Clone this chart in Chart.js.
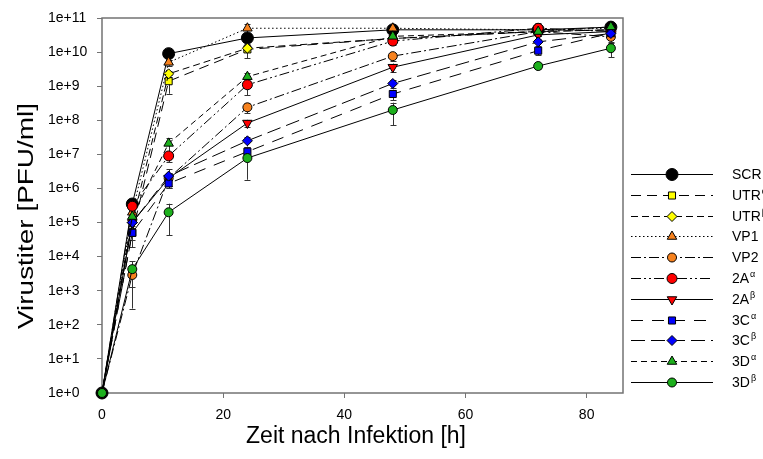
<!DOCTYPE html>
<html>
<head>
<meta charset="utf-8">
<script src="https://cdn.jsdelivr.net/npm/chart.js@4.4.0/dist/chart.umd.min.js"></script>
<style>
  html, body { margin: 0; padding: 0; background: #fff; }
  #wrap { width: 763px; height: 459px; }
</style>
</head>
<body>
<div id="wrap"><canvas id="myChart"></canvas></div>
<script>
// time points (h) and y tick labels
const hours = [0, 5, 11, 24, 48, 72, 84];
const xTicks = [0, 20, 40, 60, 80];
const yTicks = [1e0, 1e1, 1e2, 1e3, 1e4, 1e5, 1e6, 1e7, 1e8, 1e9, 1e10, 1e11];
const yTickLabels = ['1e+0', '1e+1', '1e+2', '1e+3', '1e+4', '1e+5', '1e+6', '1e+7', '1e+8', '1e+9', '1e+10', '1e+11'];

// legend names (main text + superscript)
const seriesNames = ['SCR', 'UTR', 'UTR', 'VP1', 'VP2', '2A', '2A', '3C', '3C', '3D', '3D'];
const seriesSup = ['', 'α', 'β', '', '', 'α', 'β', 'α', 'β', 'α', 'β'];

// virus titer (PFU/ml) and standard deviation, per construct
const scr = [1, 3.5e5, 9e9, 2.6e10, 4.5e10, 4.5e10, 5.4e10];
const scrSd = [0, 1e5, 2e9, 5e9, 5e9, 1.5e10, 1e10];
const utrA = [1, 5e4, 1.4e9, 1.2e10, 2.5e10, 4e10, 4.5e10];
const utrASd = [0, 2e4, 8e8, 5.5e9, 5e9, 1e10, 1e10];
const utrB = [1, 1e5, 2.3e9, 1.3e10, 2.5e10, 4e10, 4.5e10];
const utrBSd = [0, 3e4, 5e8, 3e9, 5e9, 1e10, 1e10];
const vp1 = [1, 2e5, 5e9, 5e10, 5e10, 4.5e10, 5e10];
const vp1Sd = [0, 5e4, 1e9, 1.5e10, 8e9, 1e10, 1e10];
const vp2 = [1, 2.9e3, 2e6, 2.4e8, 7.6e9, 4e10, 2.8e10];
const vp2Sd = [0, 2.6e3, 8e5, 8e7, 2e9, 1e10, 8e9];
const a2A = [1, 3e5, 9e6, 1.1e9, 2.1e10, 5e10, 4e10];
const a2ASd = [0, 5e4, 3e6, 5.5e8, 5e9, 2e10, 1e10];
const a2B = [1, 1e5, 2e6, 8.3e7, 3.6e9, 3.2e10, 4e10];
const a2BSd = [0, 3e4, 8e5, 2e7, 1e9, 1e10, 1e10];
const c3A = [1, 5e4, 1.4e6, 1.2e7, 5.9e8, 1.1e10, 3.6e10];
const c3ASd = [0, 3.1e4, 4e5, 4e6, 2e8, 3e9, 8e9];
const c3B = [1, 1e5, 2.3e6, 2.5e7, 1.2e9, 2e10, 3.5e10];
const c3BSd = [0, 3e4, 1.3e6, 8e6, 3e8, 5e9, 8e9];
const d3A = [1, 1.5e5, 2.1e7, 1.9e9, 2.9e10, 4e10, 5.5e10];
const d3ASd = [0, 4e4, 9e6, 6e8, 5e9, 1e10, 1e10];
const d3B = [1, 4.3e3, 2e5, 7.8e6, 2e8, 3.9e9, 1.3e10];
const d3BSd = [0, 3e3, 1.57e5, 6e6, 1.28e8, 8e8, 6e9];

const seriesValues = [scr, utrA, utrB, vp1, vp2, a2A, a2B, c3A, c3B, d3A, d3B];
const seriesSd = [scrSd, utrASd, utrBSd, vp1Sd, vp2Sd, a2ASd, a2BSd, c3ASd, c3BSd, d3ASd, d3BSd];

const ORANGE = '#F7821E';
const RED = '#FF0000';
const BLUE = '#0000FF';
const GREEN = '#1DB01D';
const YELLOW = '#FFFF00';

const styles = [
  { color: '#000000', shape: 'circle', radius: 6, rot: 0, dash: [] },
  { color: YELLOW, shape: 'rect', radius: 5, rot: 0, dash: [10, 6] },
  { color: YELLOW, shape: 'rectRot', radius: 5, rot: 0, dash: [7, 4] },
  { color: ORANGE, shape: 'triangle', radius: 5.5, rot: 0, dash: [1.5, 2.5] },
  { color: ORANGE, shape: 'circle', radius: 4.5, rot: 0, dash: [10, 3, 2, 3] },
  { color: RED, shape: 'circle', radius: 5, rot: 0, dash: [10, 3, 2, 3, 2, 3] },
  { color: RED, shape: 'triangle', radius: 5.5, rot: 180, dash: [] },
  { color: BLUE, shape: 'rect', radius: 5, rot: 0, dash: [12, 9] },
  { color: BLUE, shape: 'rectRot', radius: 5, rot: 0, dash: [14, 6] },
  { color: GREEN, shape: 'triangle', radius: 5.5, rot: 0, dash: [6, 4] },
  { color: GREEN, shape: 'circle', radius: 4.5, rot: 0, dash: [] }
];

const FONT = "'Liberation Sans', Arial, sans-serif";

const datasets = seriesValues.map(function(vals, i) {
  const s = styles[i];
  return {
    label: seriesNames[i] + seriesSup[i],
    data: hours.map(function(h, j) { return { x: h, y: vals[j] }; }),
    errors: seriesSd[i],
    borderColor: '#000000',
    borderWidth: 1,
    borderDash: s.dash,
    backgroundColor: s.color,
    pointStyle: s.shape,
    pointRotation: s.rot,
    pointRadius: s.radius,
    pointHoverRadius: s.radius,
    pointBackgroundColor: s.color,
    pointBorderColor: '#000000',
    pointBorderWidth: 1,
    tension: 0,
    fill: false,
    clip: false,
    order: seriesValues.length - i
  };
});

function drawMarker(ctx, s, x, y) {
  ctx.save();
  ctx.setLineDash([]);
  ctx.fillStyle = s.color;
  ctx.strokeStyle = '#000000';
  ctx.lineWidth = 1;
  Chart.helpers.drawPoint(ctx, { pointStyle: s.shape, radius: s.radius, rotation: s.rot, borderWidth: 1 }, x, y);
  ctx.restore();
}

const framePlugin = {
  id: 'frame',
  beforeDatasetsDraw(chart) {
    const a = chart.chartArea, ctx = chart.ctx;
    const xs = chart.scales.x, ys = chart.scales.y;
    ctx.save();
    ctx.strokeStyle = '#737373';
    ctx.lineWidth = 1.5;
    ctx.strokeRect(a.left, a.top, a.right - a.left, a.bottom - a.top);
    // error bars
    ctx.strokeStyle = '#333333';
    ctx.lineWidth = 1;
    chart.data.datasets.forEach(function(ds) {
      ds.errors.forEach(function(sd, j) {
        if (!sd) return;
        const v = ds.data[j].y;
        const px = Math.round(xs.getPixelForValue(ds.data[j].x)) + 0.5;
        const hi = ys.getPixelForValue(v + sd);
        const lo = v - sd > 0 ? ys.getPixelForValue(v - sd) : ys.bottom;
        ctx.beginPath();
        ctx.moveTo(px, hi); ctx.lineTo(px, lo);
        ctx.moveTo(px - 3, Math.round(hi) + 0.5); ctx.lineTo(px + 3, Math.round(hi) + 0.5);
        ctx.moveTo(px - 3, Math.round(lo) + 0.5); ctx.lineTo(px + 3, Math.round(lo) + 0.5);
        ctx.stroke();
      });
    });
    ctx.restore();
  },
  afterDraw(chart) {
    const ctx = chart.ctx, a = chart.chartArea;
    ctx.save();
    ctx.fillStyle = '#000000';
    // axis titles
    ctx.font = '23px ' + FONT;
    ctx.textAlign = 'center';
    ctx.textBaseline = 'middle';
    ctx.fillText('Zeit nach Infektion [h]', 356, 437);
    ctx.save();
    ctx.translate(27, 216);
    ctx.rotate(-Math.PI / 2);
    ctx.font = '22px ' + FONT;
    const w = ctx.measureText('Virustiter [PFU/ml]').width;
    ctx.scale(226 / w, 1);
    ctx.fillText('Virustiter [PFU/ml]', 0, 0);
    ctx.restore();

    // legend
    chart.data.datasets.forEach(function(ds, i) {
      const s = styles[i];
      const y = Math.round(174 + i * 20.8) + 0.5;
      ctx.save();
      ctx.strokeStyle = '#000000';
      ctx.lineWidth = 1;
      ctx.setLineDash(s.dash);
      ctx.beginPath();
      ctx.moveTo(631, y); ctx.lineTo(713, y);
      ctx.stroke();
      ctx.restore();
      drawMarker(ctx, s, 672, y);
      ctx.font = '14px ' + FONT;
      ctx.textAlign = 'left';
      ctx.textBaseline = 'middle';
      ctx.fillText(seriesNames[i], 732, y + 1);
      if (seriesSup[i]) {
        const tw = ctx.measureText(seriesNames[i]).width;
        ctx.font = '9px ' + FONT;
        ctx.fillText(seriesSup[i], 732 + tw + 1, y - 4);
      }
    });
    ctx.restore();
  }
};

const ctx = document.getElementById('myChart').getContext('2d');
const myChart = new Chart(ctx, {
  type: 'line',
  data: { datasets: datasets },
  options: {
    responsive: true,
    maintainAspectRatio: false,
    animation: false,
    events: [],
    layout: { padding: { left: 48, top: 18, right: 140, bottom: 0 } },
    scales: {
      x: {
        type: 'linear',
        min: 0,
        max: 86,
        afterBuildTicks: function(scale) { scale.ticks = xTicks.map(function(v) { return { value: v }; }); },
        afterFit: function(scale) { scale.height = 66; },
        border: { display: false },
        grid: { drawOnChartArea: false, drawTicks: true, tickLength: 5, color: '#737373', lineWidth: 1 },
        ticks: { color: '#000000', font: { family: FONT, size: 14 }, padding: 9, maxRotation: 0 }
      },
      y: {
        type: 'logarithmic',
        min: 1,
        max: 1e11,
        afterBuildTicks: function(scale) { scale.ticks = yTicks.map(function(v) { return { value: v }; }); },
        afterFit: function(scale) { scale.width = 54; },
        border: { display: false },
        grid: { drawOnChartArea: false, drawTicks: true, tickLength: 5, color: '#737373', lineWidth: 1 },
        ticks: {
          color: '#000000',
          font: { family: FONT, size: 14 },
          crossAlign: 'far',
          callback: function(value, index) { return yTickLabels[index]; }
        }
      }
    },
    plugins: {
      legend: { display: false },
      tooltip: { enabled: false }
    }
  },
  plugins: [framePlugin]
});
</script>
</body>
</html>
